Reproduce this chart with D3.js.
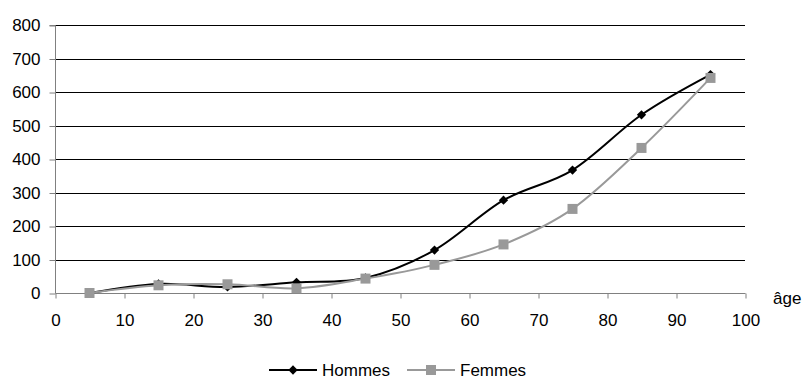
<!DOCTYPE html>
<html lang="fr">
<head>
<meta charset="UTF-8">
<script src="https://d3js.org/d3.v7.min.js"></script>
<style>
  body { margin: 0; background: #fff; }
  text { font-family: "Liberation Sans", Arial, sans-serif; }
</style>
</head>
<body>
<svg id="chart" width="803" height="379"></svg>
<script>
    // ages (centres des classes)
    const ages = [5, 15, 25, 35, 45, 55, 65, 75, 85, 95];
    const hommes = [0, 27, 18, 32, 45, 128, 277, 367, 532, 652];
    const femmes = [0, 23, 26, 14, 43, 84, 145, 251, 433, 642];
    const xTicks = [0, 10, 20, 30, 40, 50, 60, 70, 80, 90, 100];
    const yTicks = [0, 100, 200, 300, 400, 500, 600, 700, 800];

    const svg = d3.select("#chart");
    const plotLeft = 55, plotRight = 745, plotTop = 25, plotBottom = 293;
    const fontSize = 17;

    const x = d3.scaleLinear().domain([0, 100]).range([plotLeft, plotRight]);
    const y = d3.scaleLinear().domain([0, 800]).range([plotBottom, plotTop]);

    // grid lines
    svg.append("g")
        .selectAll("line")
        .data(yTicks.filter(d => d > 0))
        .enter().append("line")
        .attr("x1", plotLeft).attr("x2", plotRight)
        .attr("y1", d => Math.round(y(d)) + 0.5)
        .attr("y2", d => Math.round(y(d)) + 0.5)
        .attr("stroke", "#000")
        .attr("stroke-width", 1);

    // y axis
    const yAxis = svg.append("g")
        .attr("transform", `translate(${plotLeft + 0.5},0.5)`)
        .call(d3.axisLeft(y).tickValues(yTicks).tickSize(6).tickPadding(9));
    yAxis.select(".domain").attr("stroke", "#808080").attr("d", `M-6,${plotTop}H0V${plotBottom}`);
    yAxis.selectAll(".tick line").attr("stroke", "#808080");
    yAxis.selectAll("text").attr("font-size", fontSize).attr("fill", "#000")
        .style("font-family", "Liberation Sans, Arial, sans-serif");

    // x axis
    const xAxis = svg.append("g")
        .attr("transform", `translate(0.5,${plotBottom + 0.5})`)
        .call(d3.axisBottom(x).tickValues(xTicks).tickSize(5).tickPadding(15));
    xAxis.select(".domain").attr("stroke", "#808080").attr("d", `M${plotLeft},0H${plotRight}`);
    xAxis.selectAll(".tick line").attr("stroke", "#808080");
    xAxis.selectAll("text").attr("font-size", fontSize).attr("fill", "#000")
        .style("font-family", "Liberation Sans, Arial, sans-serif");

    svg.append("text")
        .attr("x", 773).attr("y", 304)
        .attr("font-size", fontSize)
        .text("âge");

    const line = d3.line()
        .x((d, i) => x(ages[i]))
        .y(d => y(d))
        .curve(d3.curveCardinal.tension(0));

    const series = [
        { name: "Hommes", values: hommes, color: "#000", symbol: d3.symbolDiamond2, size: 55 },
        { name: "Femmes", values: femmes, color: "#999", symbol: d3.symbolSquare, size: 100 }
    ];

    series.forEach(s => {
        svg.append("path")
            .attr("d", line(s.values))
            .attr("fill", "none")
            .attr("stroke", s.color)
            .attr("stroke-width", 2);
    });

    series.forEach(s => {
        svg.append("g")
            .selectAll("path")
            .data(s.values)
            .enter().append("path")
            .attr("transform", (d, i) => `translate(${x(ages[i])},${y(d)})`)
            .attr("d", d3.symbol().type(s.symbol).size(s.size))
            .attr("fill", s.color);
    });

    // legend
    const legend = svg.append("g").attr("transform", "translate(0,370)");
    const legendItems = [
        { s: series[0], x0: 269 },
        { s: series[1], x0: 407 }
    ];
    legendItems.forEach(({ s, x0 }) => {
        legend.append("line")
            .attr("x1", x0).attr("x2", x0 + 48)
            .attr("y1", 0).attr("y2", 0)
            .attr("stroke", s.color).attr("stroke-width", 2);
        legend.append("path")
            .attr("transform", `translate(${x0 + 24},0)`)
            .attr("d", d3.symbol().type(s.symbol).size(s.size))
            .attr("fill", s.color);
        legend.append("text")
            .attr("x", x0 + 53).attr("y", 5.5)
            .attr("font-size", fontSize)
            .text(s.name);
    });
</script>
</body>
</html>
